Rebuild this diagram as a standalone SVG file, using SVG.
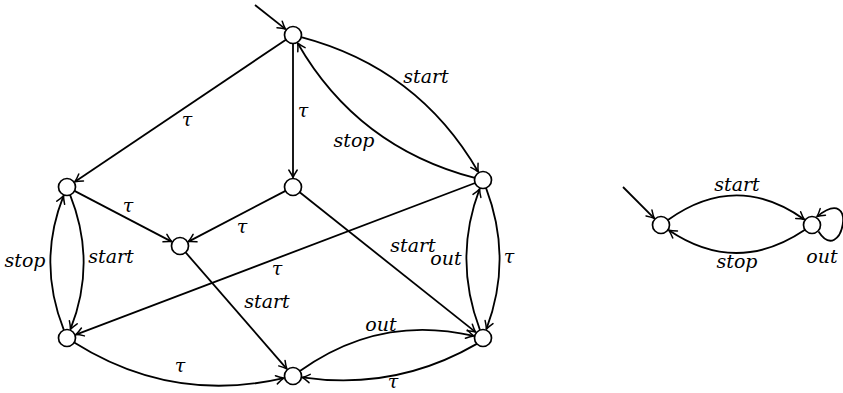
<svg xmlns="http://www.w3.org/2000/svg" width="843" height="393" viewBox="0 0 843 393">
<style>
.n{fill:#fff;stroke:#000;stroke-width:1.7}
.e{fill:none;stroke:#000;stroke-width:1.8;marker-end:url(#ah)}
.l{font-family:"DejaVu Serif","Liberation Serif",serif;font-style:italic;font-size:19px;fill:#000;text-anchor:middle}
</style>
<defs>
<marker id="ah" markerUnits="userSpaceOnUse" markerWidth="16" markerHeight="16" viewBox="-10 -8 12 16" refX="0" refY="0" orient="auto" overflow="visible">
<path d="M -7.5 -4.2 Q -3 -1.2 0 0 Q -3 1.2 -7.5 4.2" fill="none" stroke="#000" stroke-width="1.5" stroke-linecap="round"/>
</marker>
</defs>
<g id="connectors">
<path class="e" d="M 255 5 L 285.5 29.1"/>
<path class="e" d="M 285.9 39.7 L 74.9 181.7"/>
<path class="e" d="M 293 43.5 L 293 177.5"/>
<path class="e" d="M 301.2 37.2 Q 418 68 478.2 171.8"/>
<path class="e" d="M 474.8 177.9 Q 357.6 147.3 297.7 43.2"/>
<path class="e" d="M 74.5 190.9 L 171.6 241.6"/>
<path class="e" d="M 285.5 190.9 L 188.4 241.6"/>
<path class="e" d="M 299.7 192.3 L 475.6 332.1"/>
<path class="e" d="M 185.6 252.4 L 286.8 368.8"/>
<path class="e" d="M 475.1 183 L 75.9 334.6"/>
<path class="e" d="M 63.9 330.1 Q 37 262.5 63.5 195.8"/>
<path class="e" d="M 70.1 194.9 Q 97 262.5 70.5 329.2"/>
<path class="e" d="M 480 330.1 Q 453 259 479.6 188.9"/>
<path class="e" d="M 486 187.9 Q 513 259 486.4 329.1"/>
<path class="e" d="M 74.2 342.5 Q 172 404 283.7 378.1"/>
<path class="e" d="M 299.9 371 Q 379.4 313.9 473.7 335.9"/>
<path class="e" d="M 476.8 343.9 Q 395.5 391 302.2 377.4"/>
<path class="e" d="M 623 187 L 654.3 218.3"/>
<path class="e" d="M 667.9 220 Q 736.5 171 804.3 219.5"/>
<path class="e" d="M 805 229.8 Q 736.5 276 668.9 230.3"/>
<path class="e" d="M 818.5 231.5 C 842 268 860 182 817 216.6"/>
</g>
<g id="labels">
<text class="l" x="426" y="83">start</text>
<text class="l" x="354" y="147">stop</text>
<text class="l" x="303" y="117">τ</text>
<text class="l" x="187" y="126">τ</text>
<text class="l" x="128" y="212">τ</text>
<text class="l" x="242" y="233">τ</text>
<text class="l" x="111" y="263">start</text>
<text class="l" x="25" y="267">stop</text>
<text class="l" x="277" y="275">τ</text>
<text class="l" x="267" y="308">start</text>
<text class="l" x="180" y="372">τ</text>
<text class="l" x="413" y="252">start</text>
<text class="l" x="446" y="265">out</text>
<text class="l" x="509" y="263">τ</text>
<text class="l" x="381" y="331">out</text>
<text class="l" x="393" y="388">τ</text>
<text class="l" x="737" y="191">start</text>
<text class="l" x="737" y="268">stop</text>
<text class="l" x="822" y="263">out</text>
</g>
<g id="nA"><circle class="n" cx="293" cy="35" r="8.5"/></g>
<g id="nB"><circle class="n" cx="67" cy="187" r="8.5"/></g>
<g id="nC"><circle class="n" cx="293" cy="187" r="8.5"/></g>
<g id="nD"><circle class="n" cx="180" cy="246" r="8.5"/></g>
<g id="nE"><circle class="n" cx="483" cy="180" r="8.5"/></g>
<g id="nF"><circle class="n" cx="67" cy="338" r="8.5"/></g>
<g id="nG"><circle class="n" cx="483" cy="338" r="8.5"/></g>
<g id="nH"><circle class="n" cx="293" cy="376" r="8.5"/></g>
<g id="nI"><circle class="n" cx="661" cy="225" r="8.5"/></g>
<g id="nJ"><circle class="n" cx="812" cy="225" r="8.5"/></g>
</svg>
